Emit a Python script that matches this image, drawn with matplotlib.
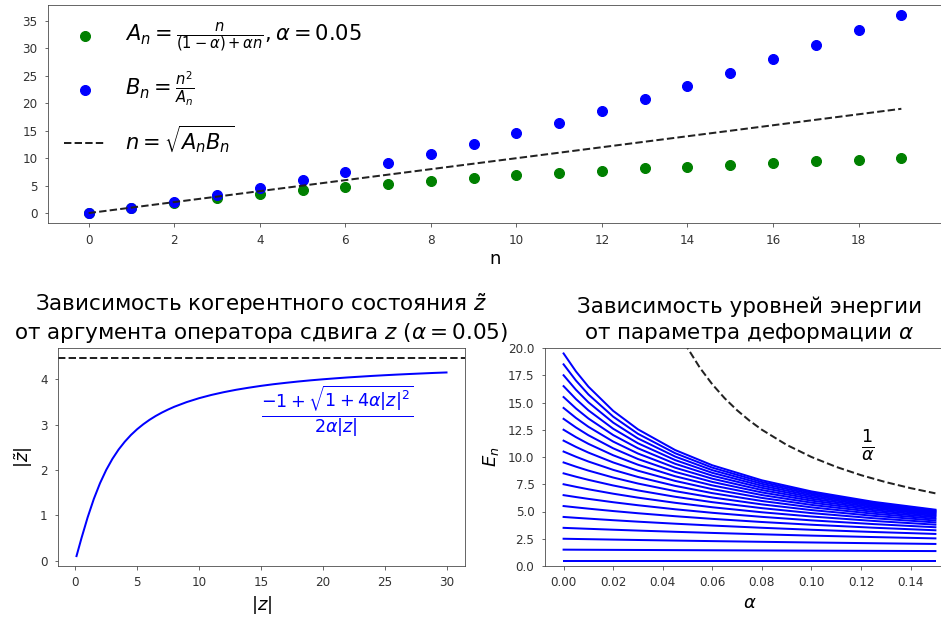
import numpy as np
import matplotlib
matplotlib.use("Agg")
from matplotlib import pyplot as plt

# верхний график: A_n, B_n при alpha = 0.05
n_vals = list(range(20))
A_vals = [0.0, 1.0, 1.905, 2.727, 3.478, 4.167, 4.8, 5.385, 5.926, 6.429,
          6.897, 7.333, 7.742, 8.125, 8.485, 8.824, 9.143, 9.444, 9.730, 10.0]
B_vals = [0.0, 1.0, 2.1, 3.3, 4.6, 6.0, 7.5, 9.1, 10.8, 12.6,
          14.5, 16.5, 18.6, 20.8, 23.1, 25.5, 28.0, 30.6, 33.3, 36.1]

# левый нижний: |z~| от |z|
z_vals = [0.1, 0.5, 1, 1.5, 2, 2.5, 3, 3.5, 4, 4.5, 5, 5.5, 6, 6.5, 7, 7.5, 8, 9, 10,
          11, 12, 13, 14, 15, 16, 17, 18, 19, 20, 21, 22, 23, 24, 25, 26, 27, 28, 29, 30]
zt_vals = [0.1, 0.494, 0.954, 1.361, 1.708, 2.0, 2.244, 2.450, 2.623, 2.772, 2.899,
           3.009, 3.106, 3.191, 3.266, 3.333, 3.394, 3.497, 3.583, 3.655, 3.716,
           3.769, 3.814, 3.855, 3.891, 3.922, 3.951, 3.977, 4.0, 4.021, 4.041,
           4.058, 4.075, 4.09, 4.104, 4.117, 4.129, 4.141, 4.151]
zt_limit = 4.472

# правый нижний: уровни энергии E_n(alpha), n = 0..19
alpha_grid = [0, 0.005, 0.01, 0.02, 0.03, 0.045, 0.06, 0.08, 0.1, 0.125, 0.15]
E_levels = [
    [0.5, 0.5, 0.5, 0.5, 0.5, 0.5, 0.5, 0.5, 0.5, 0.5, 0.5],
    [1.5, 1.495, 1.490, 1.480, 1.471, 1.457, 1.443, 1.426, 1.409, 1.389, 1.370],
    [2.5, 2.480, 2.461, 2.423, 2.386, 2.333, 2.283, 2.219, 2.159, 2.089, 2.023],
    [3.5, 3.456, 3.412, 3.329, 3.250, 3.138, 3.034, 2.906, 2.788, 2.655, 2.533],
    [4.5, 4.421, 4.346, 4.202, 4.067, 3.881, 3.711, 3.507, 3.324, 3.121, 2.942],
    [5.5, 5.378, 5.261, 5.042, 4.841, 4.568, 4.324, 4.037, 3.786, 3.513, 3.277],
    [6.5, 6.325, 6.159, 5.852, 5.575, 5.205, 4.881, 4.508, 4.188, 3.846, 3.556],
    [7.5, 7.263, 7.040, 6.634, 6.272, 5.798, 5.390, 4.929, 4.540, 4.133, 3.793],
    [8.5, 8.192, 7.905, 7.388, 6.935, 6.351, 5.857, 5.308, 4.853, 4.383, 3.997],
    [9.5, 9.112, 8.754, 8.117, 7.566, 6.868, 6.287, 5.651, 5.132, 4.603, 4.173],
    [10.5, 10.023, 9.587, 8.821, 8.168, 7.352, 6.684, 5.963, 5.382, 4.797, 4.328],
    [11.5, 10.925, 10.405, 9.501, 8.742, 7.806, 7.052, 6.247, 5.607, 4.971, 4.464],
    [12.5, 11.819, 11.209, 10.160, 9.291, 8.234, 7.394, 6.508, 5.812, 5.126, 4.586],
    [13.5, 12.705, 11.998, 10.797, 9.815, 8.637, 7.712, 6.748, 5.998, 5.267, 4.694],
    [14.5, 13.582, 12.774, 11.415, 10.318, 9.018, 8.009, 6.969, 6.168, 5.394, 4.792],
    [15.5, 14.451, 13.535, 12.013, 10.799, 9.377, 8.287, 7.174, 6.325, 5.510, 4.881],
    [16.5, 15.312, 14.284, 12.593, 11.260, 9.718, 8.547, 7.364, 6.469, 5.616, 4.962],
    [17.5, 16.165, 15.020, 13.156, 11.704, 10.041, 8.792, 7.542, 6.603, 5.713, 5.035],
    [18.5, 17.011, 15.743, 13.702, 12.129, 10.348, 9.023, 7.707, 6.726, 5.803, 5.103],
    [19.5, 17.848, 16.454, 14.232, 12.538, 10.639, 9.240, 7.862, 6.841, 5.886, 5.165],
]
inv_alpha_x = [0.045, 0.05, 0.055, 0.06, 0.065, 0.07, 0.075, 0.08, 0.09, 0.1,
               0.11, 0.12, 0.13, 0.14, 0.15]
inv_alpha_y = [22.22, 20.0, 18.18, 16.667, 15.385, 14.286, 13.333, 12.5, 11.111, 10.0,
               9.091, 8.333, 7.692, 7.143, 6.667]

W, H = 941, 619
plt.rcParams['axes.edgecolor'] = '#444444'
plt.rcParams['xtick.color'] = '#444444'
plt.rcParams['ytick.color'] = '#444444'
plt.rcParams['xtick.labelcolor'] = '#333333'
plt.rcParams['ytick.labelcolor'] = '#333333'
plt.rcParams['xtick.labelsize'] = 12
plt.rcParams['ytick.labelsize'] = 12
plt.rcParams['xtick.major.pad'] = 7
plt.rcParams['ytick.major.pad'] = 7

fig = plt.figure(figsize=(W / 72, H / 72), dpi=72)

def px_axes(l, t, r, b):
    # правый край картинки обрезан, поэтому оси могут выходить за него
    return fig.add_axes([l / W, 1 - b / H, (r - l) / W, (b - t) / H])

# ---- верх
ax1 = px_axes(48, 5, 942, 223)
ax1.scatter(n_vals, A_vals, s=100, color='green',
            label=r'$A_n = \frac{n}{(1-\alpha)+\alpha n}, \alpha = 0.05$')
ax1.scatter(n_vals, B_vals, s=100, color='blue', label=r'$B_n = \frac{n^2}{A_n}$')
ax1.plot(n_vals, n_vals, '--', color='#222222', lw=2, label=r'$n = \sqrt{A_n B_n}$')
ax1.set_xticks(range(0, 20, 2))
ax1.set_xlabel('n', fontsize=18)
ax1.legend(loc='upper left', fontsize=21, frameon=False, labelspacing=0.72,
           handletextpad=0.9, borderaxespad=0.35)

# ---- левый низ
ax2 = px_axes(58, 348, 465, 566)
ax2.plot(z_vals, zt_vals, color='blue', lw=2)
ax2.axhline(zt_limit, ls='--', color='#222222', lw=2)
ax2.text(15, 3.3, r'$\frac{-1 + \sqrt{1 + 4\alpha |z|^2}}{2\alpha |z|}$',
         color='blue', fontsize=25, ha='left', va='center')
ax2.set_xlabel(r'$|z|$', fontsize=18)
ax2.set_ylabel(r'$|\tilde{z}|$', fontsize=18, labelpad=5)
ax2.set_title('Зависимость когерентного состояния $\\tilde{z}$\n'
              'от аргумента оператора сдвига $z$ ($\\alpha = 0.05$)', fontsize=21.5, pad=9)

# ---- правый низ
ax3 = px_axes(545, 348, 954, 566)
for level in E_levels:
    ax3.plot(alpha_grid, level, color='blue', lw=2)
ax3.plot(inv_alpha_x, inv_alpha_y, '--', color='#222222', lw=2)
ax3.text(0.12, 11, r'$\frac{1}{\alpha}$', fontsize=25, ha='left', va='center')
ax3.set_ylim(0, 20)
ax3.set_xlabel(r'$\alpha$', fontsize=18)
ax3.set_ylabel(r'$E_n$', fontsize=18, labelpad=7)
ax3.set_title('Зависимость уровней энергии\nот параметра деформации $\\alpha$',
              fontsize=21.5, pad=9)

fig.savefig('out.png', dpi=72)
